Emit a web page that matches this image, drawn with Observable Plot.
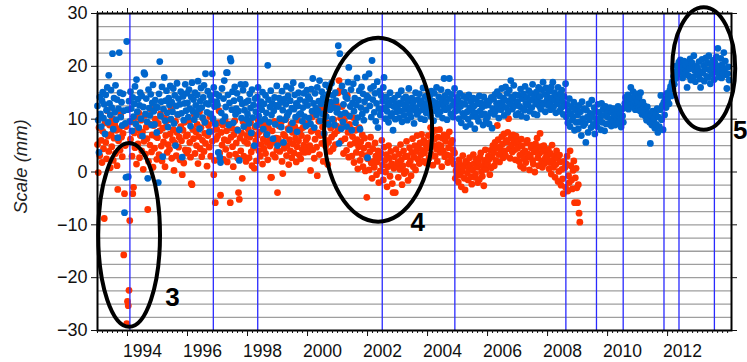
<!DOCTYPE html>
<html><head><meta charset="utf-8">
<script src="https://cdn.jsdelivr.net/npm/d3@7"></script>
<script src="https://cdn.jsdelivr.net/npm/@observablehq/plot@0.6"></script>
<style>html,body{margin:0;padding:0;background:#fff;}</style>
</head><body><div id="chart"></div>
<script>
// sampling: one solution every 1/40 year
const sampleStep = 1/40;
const blueStart = 1993.0;
const blueScale = [
12.5,9.8,3.7,14.2,11.0,8.6,13.5,15.1,10.2,12.8,7.2,14.6,11.7,16.0,9.4,18.3,13.0,10.8,15.5,12.2,22.4,8.1,14.0,11.3,16.4,9.9,13.7,6.5,12.0,22.6,15.0,10.4,13.2,8.8,14.8,11.6,-7.7,9.2,-1.0,24.7,
11.8,-0.9,13.4,9.6,15.2,12.0,7.8,14.1,10.5,12.9,16.2,9.1,17.5,11.4,13.8,8.4,12.6,15.0,10.1,14.4,6.8,12.3,18.8,18.5,11.0,13.9,9.5,-1.2,15.6,12.1,10.7,14.7,8.9,13.1,16.5,11.5,9.0,13.6,12.4,7.5,
12.2,-2.0,14.8,20.9,10.6,13.3,16.1,2.9,11.9,17.9,9.7,13.5,15.4,11.2,8.5,14.0,12.7,16.3,10.0,13.2,11.4,15.8,9.2,14.5,5.0,12.5,16.8,10.9,13.9,8.0,12.8,15.2,11.1,2.8,14.3,9.8,13.0,16.6,11.6,14.9,
13.1,10.4,15.6,12.0,8.7,14.2,16.9,11.5,13.7,9.9,15.0,12.6,10.8,14.6,17.2,11.9,8.2,13.4,15.9,12.2,10.3,14.1,16.4,9.4,18.6,13.0,11.3,15.3,12.8,7.6,14.5,11.0,13.6,18.6,10.1,16.0,12.4,9.1,14.8,13.3,
12.7,3.7,14.4,2.8,1.8,11.2,15.8,9.6,13.9,17.3,10.5,12.3,18.8,18.8,14.6,8.9,13.1,21.5,21.0,11.8,15.2,9.3,13.5,16.1,10.9,12.0,14.9,7.9,11.5,2.2,13.8,16.6,10.2,12.9,15.5,8.6,11.7,16.6,13.2,10.0,
11.0,13.5,9.2,14.8,12.1,7.4,15.6,10.3,12.7,5.0,13.9,11.4,8.8,14.2,16.0,10.6,12.5,9.6,13.3,11.8,15.1,8.1,12.9,10.0,14.5,11.2,7.1,20.2,13.7,9.4,12.3,15.4,10.8,13.0,6.3,11.6,14.1,9.0,12.6,16.3,
5.0,12.4,14.0,10.1,13.2,8.5,15.3,11.7,5.6,13.8,9.9,12.8,16.2,10.7,14.4,11.3,8.0,13.5,15.8,12.1,9.3,16.9,11.9,14.6,10.4,13.0,7.6,12.5,15.0,10.9,13.7,11.1,16.4,9.6,12.2,14.9,10.5,13.3,8.7,15.5,
12.6,14.3,10.2,13.8,9.1,15.7,11.5,17.7,13.0,8.4,14.9,12.1,10.8,16.0,11.6,13.4,17.3,9.7,12.9,15.2,11.0,14.1,7.3,13.6,16.5,10.5,12.4,14.7,9.0,15.9,11.8,13.2,16.8,10.0,14.5,12.2,8.9,15.0,13.5,11.3,
12.0,23.9,5.4,22.4,10.9,8.2,16.3,9.5,12.8,15.1,11.2,14.2,8.6,13.9,17.0,19.8,10.6,12.4,15.6,7.9,13.1,16.7,11.5,14.0,9.3,12.7,17.8,10.3,13.6,15.4,8.1,12.2,16.1,11.0,14.8,9.8,13.3,18.0,11.7,14.4,
2.7,14.1,18.6,12.5,15.8,10.4,21.1,13.7,16.2,11.3,14.9,9.6,13.0,17.1,8.4,12.0,15.3,10.8,14.5,11.9,13.4,16.0,17.9,12.2,10.1,14.2,11.5,13.1,9.4,12.7,15.0,10.6,13.6,11.1,7.9,12.4,14.0,10.0,12.9,11.4,
12.3,14.6,10.2,13.1,11.5,15.4,9.5,12.8,13.9,10.7,11.9,14.2,12.5,9.8,13.4,15.8,11.1,12.0,10.4,14.0,12.6,13.3,9.2,11.7,15.0,12.2,10.9,13.7,11.4,14.8,12.9,10.1,13.5,11.8,15.9,12.4,9.9,14.3,11.2,13.0,
12.0,13.8,11.2,14.5,10.6,15.3,12.7,13.4,9.7,14.9,11.6,13.1,16.0,12.3,10.9,14.2,12.9,11.4,15.6,13.6,10.2,12.5,17.7,14.4,11.8,13.2,9.9,15.1,12.1,17.7,13.9,11.0,14.7,12.6,10.4,13.3,15.8,11.5,12.8,14.1,
11.7,13.6,10.1,14.9,12.4,9.3,13.0,11.1,14.3,10.5,12.8,8.6,13.9,11.4,10.0,14.6,12.1,9.0,13.3,11.8,10.6,14.0,12.5,8.2,11.2,13.7,10.3,12.9,9.6,14.4,11.5,13.1,10.8,12.3,8.9,14.2,11.0,12.6,9.8,13.4,
10.4,12.7,9.1,13.5,11.2,14.1,8.3,12.0,13.8,10.9,14.7,11.6,13.0,15.2,12.3,10.2,14.4,13.1,11.8,15.8,12.6,14.0,10.7,13.6,16.1,12.2,14.9,11.3,13.4,15.5,12.8,17.3,14.2,11.9,13.7,16.4,12.5,14.6,10.8,13.2,
13.3,11.1,14.5,12.4,15.7,10.6,13.9,12.0,14.8,11.7,16.2,13.0,10.3,14.1,12.7,15.4,11.5,13.6,14.9,12.2,16.6,13.8,11.0,14.4,12.9,15.1,10.8,13.4,16.0,12.5,14.3,11.9,15.6,13.1,17.0,12.8,14.7,11.4,15.9,13.5,
14.2,12.6,15.3,13.0,11.8,16.1,14.0,17.0,12.3,15.0,13.5,11.2,14.6,12.9,16.0,13.7,11.5,14.8,12.1,15.5,13.2,10.9,14.3,12.5,16.7,10.4,12.8,9.3,11.6,13.9,8.6,11.0,12.4,9.8,10.5,13.2,7.9,11.8,9.4,12.1,
10.8,8.2,12.6,9.5,11.4,6.9,13.3,10.1,8.8,12.0,9.2,5.6,11.7,10.4,7.5,12.9,9.9,11.1,8.4,13.6,10.6,9.0,12.2,7.2,11.5,10.0,8.6,12.8,9.7,11.3,10.3,8.0,13.0,9.4,11.9,10.7,7.8,12.4,9.1,11.0,
10.4,11.8,9.1,12.2,10.0,8.7,11.3,9.6,12.0,10.7,8.9,11.5,9.8,10.9,12.4,9.3,11.0,10.2,8.5,11.9,10.6,9.4,12.1,13.0,14.1,12.5,13.6,14.6,11.9,13.3,14.0,16.0,12.7,13.9,15.2,12.3,14.4,11.8,13.1,14.8,
13.5,12.1,14.2,11.6,15.0,12.8,10.9,13.2,11.4,12.5,10.6,11.9,9.8,12.3,10.2,11.1,9.4,5.4,10.7,8.9,11.5,9.6,10.1,8.3,11.0,9.0,12.0,7.5,10.4,8.6,11.8,14.5,9.9,12.6,8.0,13.2,10.8,13.8,12.2,14.9,
13.6,14.8,12.9,15.5,16.2,14.4,17.0,15.8,18.1,16.6,19.0,17.7,20.1,18.4,19.6,20.8,18.9,21.2,19.4,20.5,17.8,19.9,21.0,18.6,20.3,19.1,16.0,20.7,18.2,19.5,21.4,17.4,19.8,20.6,18.0,22.0,19.2,17.1,20.0,18.7,
19.7,18.3,20.9,17.6,16.0,19.0,21.3,18.8,20.2,17.2,19.5,21.6,18.1,20.6,17.9,22.0,19.3,16.7,20.4,18.5,21.1,19.9,17.5,20.8,18.9,21.8,19.6,23.4,18.0,20.1,19.1,21.5,17.8,20.3,18.7,22.6,19.4,21.0,18.4,15.8,
18.6,19.9,17.4
];
const redStart = 1993.0;
const redScale = [
5.2,-0.1,8.4,3.1,10.6,6.0,1.8,7.7,4.4,-8.8,9.3,5.6,2.5,11.6,6.8,3.9,8.9,0.8,7.1,4.8,10.1,2.2,6.4,9.0,3.5,7.9,1.2,-3.3,5.9,8.2,4.1,10.9,6.6,2.9,7.3,-15.7,-4.1,5.0,8.6,-28.7,
-24.5,-25.3,-22.4,-9.2,6.2,9.5,3.0,-4.1,-2.9,7.4,4.6,10.3,1.5,8.0,5.3,11.2,2.7,6.9,9.8,4.0,7.6,0.5,5.8,10.7,3.4,8.5,6.3,-7.1,2.0,9.1,5.1,11.9,3.8,7.0,0.9,8.8,4.5,10.0,6.7,2.4,
6.5,9.2,3.3,7.8,11.0,4.9,2.1,8.3,5.7,10.2,1.0,6.9,8.7,3.7,5.2,9.9,4.3,7.2,12.0,2.6,6.1,8.0,0.3,5.5,9.6,3.1,7.5,10.8,4.7,6.6,2.3,8.6,5.9,-0.5,7.9,1.7,9.4,4.2,6.8,3.6,
7.0,4.1,9.7,5.6,2.8,-2.2,-2.4,8.1,6.3,10.9,3.5,7.6,5.0,9.0,1.6,6.7,11.4,4.4,8.4,2.9,6.0,10.1,3.9,7.3,5.4,9.3,1.1,6.9,8.8,4.7,10.5,3.0,7.7,5.8,9.6,-0.5,2.2,-5.8,6.2,8.1,
6.8,9.3,11.6,3.6,-4.4,7.5,5.1,8.9,2.4,6.1,10.0,4.3,7.8,1.9,5.9,9.1,3.2,-5.8,6.6,8.3,4.8,1.0,7.1,9.7,3.4,5.5,8.0,2.6,-3.9,-5.2,6.4,4.0,7.4,-1.2,9.5,3.0,5.8,8.6,2.0,6.9,
5.4,8.1,2.7,6.6,9.4,3.8,1.2,7.2,4.6,0.7,8.5,5.9,2.1,6.9,9.9,4.0,7.6,3.0,5.2,8.8,1.5,6.2,4.4,9.1,3.5,7.0,5.6,2.3,8.3,6.0,4.9,-1.0,-1.0,7.8,3.3,5.7,9.6,2.8,6.4,4.2,
-3.9,6.3,8.7,3.9,5.5,9.4,2.0,-0.3,7.1,4.5,6.8,10.0,3.1,5.0,8.2,1.4,6.1,4.0,9.0,2.7,7.5,5.3,3.6,8.6,6.4,1.9,4.8,9.8,5.9,3.2,7.9,2.5,6.9,4.3,8.4,5.1,3.7,9.2,6.0,4.6,
6.5,3.8,9.1,5.0,0.3,7.7,10.4,4.2,8.0,2.6,6.2,11.3,4.7,-0.7,7.4,9.6,3.3,6.9,12.1,5.4,8.5,2.0,7.1,10.8,4.9,6.0,9.3,1.4,5.7,11.8,3.9,8.3,6.6,12.6,4.4,9.9,7.2,5.2,13.0,8.7,
7.8,15.0,17.3,15.4,10.2,5.9,12.4,8.6,3.5,9.8,6.3,11.0,4.1,14.5,7.5,2.8,9.0,5.2,8.1,3.0,6.7,10.3,1.8,5.5,7.9,3.7,6.1,0.6,4.8,8.4,2.2,5.7,3.4,7.0,1.0,4.5,6.4,0.2,3.1,-4.8,
2.5,5.1,0.4,3.8,6.6,1.7,-1.2,4.4,2.0,0.9,5.5,3.0,-0.5,1.9,4.0,-2.0,2.7,0.2,3.5,6.0,1.3,-1.5,4.7,2.2,0.0,3.3,-2.8,1.0,5.0,2.6,-0.8,3.9,1.6,-2.2,-3.9,0.7,2.9,-3.9,4.3,1.1,
1.8,-1.0,3.4,0.5,5.2,2.3,-2.4,1.2,4.0,-0.3,2.9,0.1,5.8,3.0,-1.6,1.5,4.6,2.1,-0.7,3.7,6.3,1.0,2.8,5.0,0.4,3.9,6.9,2.4,4.7,1.6,5.5,3.2,7.1,4.1,2.0,6.0,3.6,5.3,1.7,4.5,
4.8,6.9,2.6,5.6,8.4,3.4,7.3,1.3,5.0,6.2,3.0,7.9,4.3,2.0,6.6,5.2,8.0,3.7,4.9,1.0,6.4,4.0,7.0,2.9,5.8,3.3,6.7,1.8,4.6,7.6,3.1,5.4,2.4,6.0,4.2,1.5,3.6,-1.2,0.3,-0.4,
0.8,-1.9,2.3,1.5,-0.6,-2.8,0.2,3.1,1.0,-1.2,-3.4,2.0,1.8,-0.2,-1.5,0.6,2.7,1.3,-0.9,-2.3,0.4,3.3,1.6,-1.0,-0.4,2.4,0.9,-2.0,1.9,-1.4,2.8,3.6,0.1,-0.8,1.1,-2.6,2.2,4.2,0.5,1.4,
1.6,3.0,2.4,-0.5,4.1,0.8,2.9,5.0,3.7,1.2,5.6,2.2,4.5,8.8,6.1,3.3,1.9,4.8,3.6,6.7,5.3,2.7,7.2,4.0,3.1,6.0,5.7,7.5,10.1,4.4,2.6,6.4,5.1,3.8,7.0,5.9,4.2,2.3,6.8,5.4,
4.5,5.8,2.0,3.2,1.1,6.2,4.9,3.6,0.7,2.5,4.0,1.8,5.5,6.0,3.4,2.9,0.4,3.0,4.6,5.1,2.2,1.5,3.8,0.0,5.3,4.3,6.4,2.7,1.2,3.5,7.3,4.8,2.1,0.9,3.9,5.0,1.6,2.6,4.2,3.1,
2.9,4.3,0.6,1.8,3.5,-0.4,5.1,2.2,0.9,3.0,-1.0,1.4,4.0,2.6,-1.8,0.1,3.2,1.9,-2.5,0.5,-1.3,-4.1,2.0,0.8,-2.9,1.5,3.0,-3.6,-0.7,-2.0,4.0,1.2,-1.5,-3.2,0.3,2.1,-5.8,-1.1,0.7,-3.0,
-5.8,-2.4,-7.8,-9.5
];
// equipment / reference-frame change epochs (blue vertical lines)
const breakYears = [1994.08, 1996.86, 1998.34, 2002.49, 2004.91, 2008.61, 2009.63, 2010.52, 2011.88, 2012.38, 2013.56];
const yTicks = [-30, -20, -10, 0, 10, 20, 30];
const gridValues = [-27.5,-25,-22.5,-20,-17.5,-15,-12.5,-10,-7.5,-5,-2.5,0,2.5,5,7.5,10,12.5,15,17.5,20,22.5,25,27.5];
const xTickYears = [1994, 1996, 1998, 2000, 2002, 2004, 2006, 2008, 2010, 2012];
const xTickLabels = ["1994","1996","1998","2000","2002","2004","2006","2008","2010","2012"];
const yTitle = "Scale (mm)";
// annotation ellipses (data units) and their labels
const ellipseCX = [1994.07, 2002.37, 2013.22];
const ellipseCY = [-12.0, 7.9, 19.5];
const ellipseRX = [1.03, 1.8, 1.05];
const ellipseRY = [17.4, 17.4, 11.6];
const noteText = ["3", "4", "5"];
const noteX = [1995.5, 2003.67, 2014.42];
const noteY = [-23.8, -9.6, 7.9];
const noteAnchor = ["middle", "middle", "start"];

const red = redScale.map((v, i) => ({year: redStart + i * sampleStep, mm: v}));
const blue = blueScale.map((v, i) => ({year: blueStart + i * sampleStep, mm: v}));
const notes = noteText.map((t, i) => ({t, x: noteX[i], y: noteY[i], a: noteAnchor[i]}));
const minorTicks = d3.range(0, 128).map(i => 1993 + i / 6).filter(v => v <= 2014.12);
const labelAt = new Map(xTickYears.map((y, i) => [y + 0.5, xTickLabels[i]]));
const font = "Liberation Sans, Arial, Helvetica, sans-serif";

const chart = Plot.plot({
  width: 747, height: 362,
  marginLeft: 97, marginRight: 16, marginTop: 13, marginBottom: 32,
  style: {fontFamily: font, fontSize: "17px", color: "#111", background: "#fff"},
  x: {domain: [1993, 2014.13]},
  y: {domain: [-30, 30]},
  marks: [
    Plot.ruleY(gridValues, {stroke: "#9e9e9e", strokeWidth: 1.3}),
    Plot.dot(red, {x: "year", y: "mm", r: 3.4, fill: "#ff3300", stroke: "none"}),
    Plot.dot(blue, {x: "year", y: "mm", r: 3.4, fill: "#0066cc", stroke: "none"}),
    Plot.ruleX(breakYears, {stroke: "#2a2aff", strokeWidth: 1.3}),
    Plot.frame({stroke: "#000", strokeWidth: 2}),
    Plot.axisY(yTicks, {anchor: "left", tickSize: 6, tickPadding: 4, fontSize: 18, label: null}),
    Plot.axisY(yTicks, {anchor: "right", tickSize: 5, tickFormat: () => "", label: null}),
    Plot.axisX(minorTicks, {anchor: "bottom", tickSize: 3, tickFormat: () => "", label: null}),
    Plot.axisX(xTickYears, {anchor: "bottom", tickSize: 6, tickFormat: () => "", label: null}),
    Plot.axisX(minorTicks, {anchor: "top", tickSize: 3, tickFormat: () => "", label: null}),
    Plot.axisX(xTickYears, {anchor: "top", tickSize: 6, tickFormat: () => "", label: null}),
    Plot.axisX([...labelAt.keys()], {anchor: "bottom", tickSize: 0, tickPadding: 14, fontSize: 17.5, tickFormat: d => labelAt.get(d), label: null}),
    Plot.text(notes, {x: "x", y: "y", text: "t", textAnchor: d => d.a, fontSize: 26, fontWeight: "bold", fill: "#000"})
  ]
});

const sx = chart.scale("x"), sy = chart.scale("y");
const svg = d3.select(chart);
ellipseCX.forEach((cx, i) => {
  const px = sx.apply(cx), py = sy.apply(ellipseCY[i]);
  svg.append("ellipse")
    .attr("cx", px).attr("cy", py)
    .attr("rx", sx.apply(cx + ellipseRX[i]) - px)
    .attr("ry", py - sy.apply(ellipseCY[i] + ellipseRY[i]))
    .attr("fill", "none").attr("stroke", "#000").attr("stroke-width", 4);
});
svg.append("text")
  .attr("transform", `translate(21,${sy.apply(0) - 5}) rotate(-90)`)
  .attr("text-anchor", "middle").attr("dy", "0.35em")
  .attr("font-style", "italic").attr("font-size", 18.5).attr("fill", "#222")
  .attr("font-family", font)
  .text(yTitle);
document.getElementById("chart").append(chart);
</script>
</body></html>
